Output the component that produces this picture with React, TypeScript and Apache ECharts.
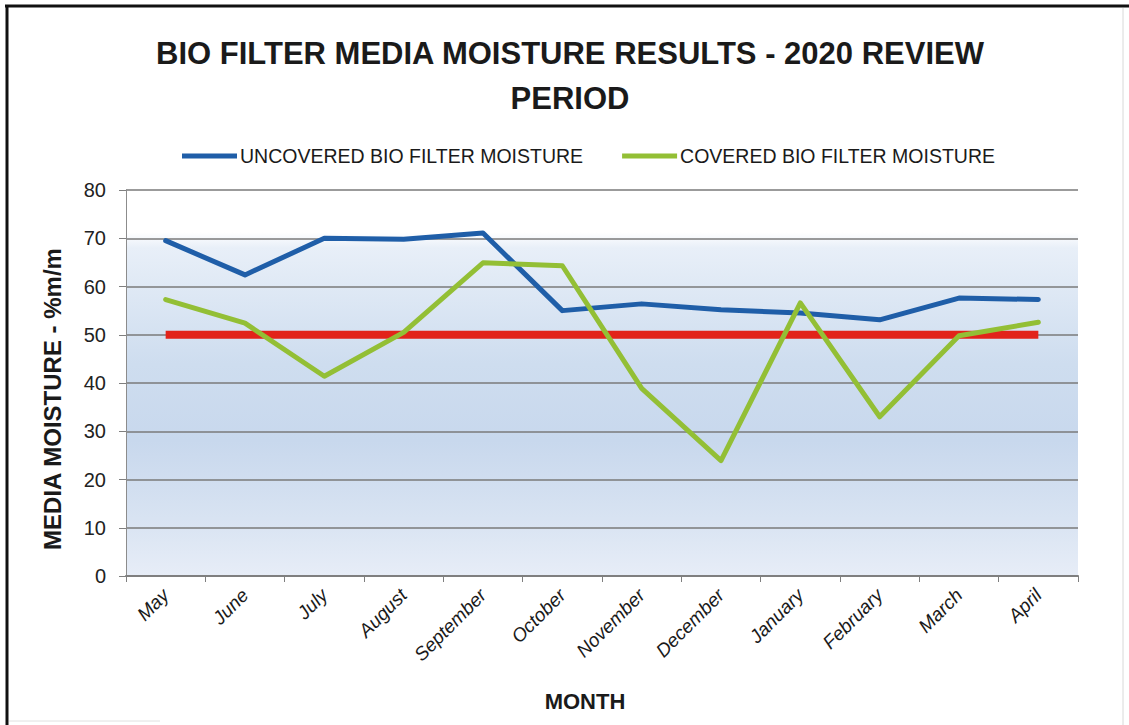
import React, { useEffect, useRef } from "react";
import * as echarts from "echarts";

// Monthly media moisture readings (% m/m), May 2020 – April 2021
const months = [
  "May", "June", "July", "August", "September", "October",
  "November", "December", "January", "February", "March", "April",
];
const uncoveredMoisture = [69.5, 62.4, 70.0, 69.8, 71.1, 55.0, 56.4, 55.2, 54.5, 53.1, 57.6, 57.3];
const coveredMoisture = [57.3, 52.4, 41.4, 50.5, 64.9, 64.3, 38.9, 23.9, 56.6, 33.0, 49.8, 52.6];
const targetMoisture = [50, 50, 50, 50, 50, 50, 50, 50, 50, 50, 50, 50];
const yTicks = { min: 0, max: 80, interval: 10 };

const SANS = "'Liberation Sans', Arial, sans-serif";

export default function App() {
  const ref = useRef<HTMLDivElement>(null);

  useEffect(() => {
    if (!ref.current) return;
    const chart = echarts.init(ref.current, undefined, { renderer: "svg" });

    const plotBg = new echarts.graphic.LinearGradient(0, 0, 0, 1, [
      { offset: 0, color: "#FFFFFF" },
      { offset: 0.11, color: "#FFFFFF" },
      { offset: 0.15, color: "#E8EFF8" },
      { offset: 0.45, color: "#CEDDEF" },
      { offset: 0.65, color: "#C8D8ED" },
      { offset: 0.85, color: "#D8E3F2" },
      { offset: 1, color: "#E7EDF7" },
    ]);

    const heading = (text: string, y: number) => ({
      type: "text",
      x: 570,
      y,
      style: {
        text,
        font: `bold 31px ${SANS}`,
        fill: "#1A1A1A",
        textAlign: "center",
        textVerticalAlign: "middle",
      },
    });

    chart.setOption({
      animation: false,
      backgroundColor: "#FFFFFF",
      graphic: [
        // outer frame
        { type: "line", shape: { x1: 5, y1: 6, x2: 1129, y2: 6 }, style: { stroke: "#111", lineWidth: 3 } },
        { type: "line", shape: { x1: 7, y1: 5, x2: 7, y2: 725 }, style: { stroke: "#111", lineWidth: 3 } },
        { type: "line", shape: { x1: 1123, y1: 8, x2: 1123, y2: 725 }, style: { stroke: "#D8D8D8", lineWidth: 1 } },
        { type: "line", shape: { x1: 9, y1: 721, x2: 160, y2: 721 }, style: { stroke: "#E0E0E0", lineWidth: 1 } },
        heading("BIO FILTER MEDIA MOISTURE RESULTS - 2020 REVIEW", 53),
        heading("PERIOD", 98),
        // axis titles
        {
          type: "text",
          x: 52,
          y: 399,
          rotation: Math.PI / 2,
          style: {
            text: "MEDIA MOISTURE - %m/m",
            font: `bold 24px ${SANS}`,
            fill: "#1A1A1A",
            textAlign: "center",
            textVerticalAlign: "middle",
          },
        },
        {
          type: "text",
          x: 585,
          y: 701,
          style: {
            text: "MONTH",
            font: `bold 22px ${SANS}`,
            fill: "#1A1A1A",
            textAlign: "center",
            textVerticalAlign: "middle",
          },
        },
      ],
      legend: {
        data: ["UNCOVERED BIO FILTER MOISTURE", "COVERED BIO FILTER MOISTURE"],
        left: 177,
        top: 141,
        icon: "rect",
        itemWidth: 55,
        itemHeight: 5,
        itemGap: 39,
        textStyle: { fontFamily: SANS, fontSize: 19.5, color: "#1A1A1A", padding: [0, 0, 0, -2] },
      },
      grid: {
        left: 126,
        right: 51,
        top: 190,
        bottom: 149,
        show: true,
        backgroundColor: plotBg,
        borderWidth: 0,
      },
      xAxis: {
        type: "category",
        data: months,
        boundaryGap: true,
        axisLine: { show: true, lineStyle: { color: "#7F7F7F", width: 2 } },
        axisTick: { show: true, length: 6, lineStyle: { color: "#7F7F7F" } },
        axisLabel: {
          interval: 0,
          rotate: 45,
          margin: 16,
          fontFamily: SANS,
          fontStyle: "italic",
          fontSize: 19,
          color: "#1A1A1A",
        },
      },
      yAxis: {
        type: "value",
        min: yTicks.min,
        max: yTicks.max,
        interval: yTicks.interval,
        axisLine: { show: true, lineStyle: { color: "#8C8C8C", width: 1 } },
        axisTick: { show: true, length: 7, lineStyle: { color: "#7F7F7F" } },
        axisLabel: { margin: 20, fontFamily: SANS, fontSize: 20, color: "#222" },
        splitLine: { show: true, lineStyle: { color: "#7A7A7A", width: 1.5 } },
      },
      series: [
        {
          name: "TARGET",
          type: "line",
          data: targetMoisture,
          symbol: "none",
          lineStyle: { color: "#E2231A", width: 8 },
          itemStyle: { color: "#E2231A" },
        },
        {
          name: "UNCOVERED BIO FILTER MOISTURE",
          type: "line",
          data: uncoveredMoisture,
          symbol: "none",
          lineStyle: { color: "#1F5EA8", width: 5, join: "round", cap: "round" },
          itemStyle: { color: "#1F5EA8" },
        },
        {
          name: "COVERED BIO FILTER MOISTURE",
          type: "line",
          data: coveredMoisture,
          symbol: "none",
          lineStyle: { color: "#93BF35", width: 5, join: "round", cap: "round" },
          itemStyle: { color: "#93BF35" },
        },
      ],
    });

    return () => chart.dispose();
  }, []);

  return (
    <div
      ref={ref}
      style={{ position: "absolute", left: 0, top: 0, width: 1129, height: 725 }}
    />
  );
}
